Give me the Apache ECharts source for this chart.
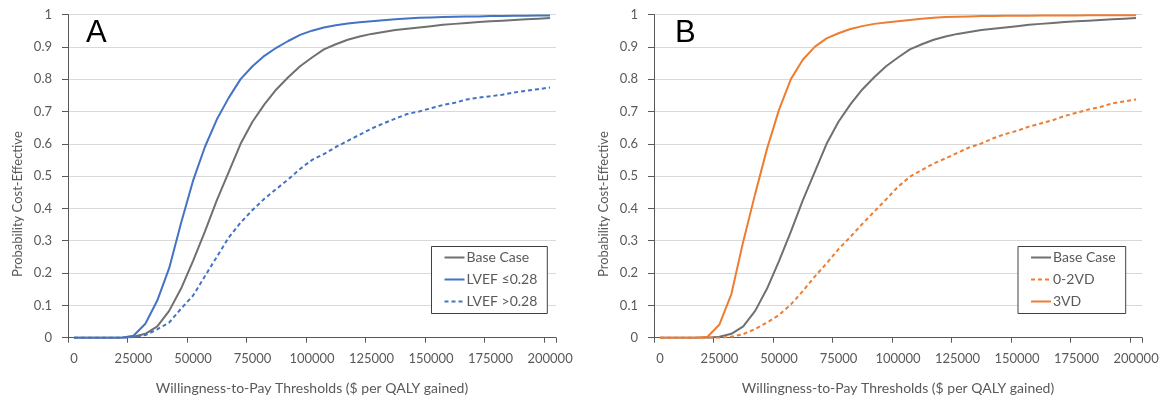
<!DOCTYPE html>
<html>
<head>
<meta charset="utf-8">
<script src="https://cdn.jsdelivr.net/npm/echarts@6/dist/echarts.min.js"></script>
<style>
html,body{margin:0;padding:0;background:#fff;}
#chart{width:1175px;height:405px;}
</style>
</head>
<body>
<div id="chart"></div>
<script>
var thresholds = ['0','5000','10000','15000','20000','25000','30000','35000','40000','45000',
  '50000','55000','60000','65000','70000','75000','80000','85000','90000','95000',
  '100000','105000','110000','115000','120000','125000','130000','135000','140000','145000',
  '150000','155000','160000','165000','170000','175000','180000','185000','190000','195000','200000'];

var baseCase = [0,0,0,0,0,0.003,0.012,0.035,0.083,0.152,
  0.237,0.328,0.425,0.512,0.600,0.668,0.722,0.768,0.806,0.840,
  0.867,0.892,0.908,0.922,0.932,0.940,0.946,0.952,0.956,0.960,
  0.964,0.968,0.971,0.974,0.977,0.979,0.981,0.983,0.985,0.987,0.989];

var lvefLow = [0,0,0,0,0,0.006,0.043,0.115,0.215,0.355,
  0.485,0.590,0.675,0.742,0.800,0.840,0.872,0.897,0.918,0.937,
  0.950,0.960,0.967,0.972,0.976,0.979,0.982,0.985,0.988,0.990,
  0.991,0.992,0.993,0.994,0.994,0.995,0.995,0.996,0.996,0.997,0.997];

var lvefHigh = [0,0,0,0,0,0.002,0.008,0.026,0.047,0.090,
  0.130,0.190,0.250,0.310,0.356,0.395,0.430,0.460,0.490,0.522,
  0.550,0.568,0.590,0.609,0.628,0.647,0.663,0.678,0.692,0.700,
  0.710,0.720,0.727,0.737,0.743,0.747,0.752,0.759,0.764,0.769,0.774];

var vd02 = [0,0,0,0,0,0,0.003,0.011,0.027,0.047,
  0.070,0.103,0.144,0.189,0.230,0.274,0.312,0.352,0.390,0.428,
  0.467,0.498,0.519,0.539,0.555,0.572,0.589,0.601,0.617,0.630,
  0.640,0.653,0.663,0.673,0.686,0.696,0.706,0.714,0.725,0.731,0.737];

var vd3 = [0,0,0,0,0.003,0.041,0.135,0.298,0.445,0.585,
  0.705,0.800,0.860,0.900,0.926,0.942,0.955,0.964,0.971,0.975,
  0.979,0.983,0.987,0.990,0.992,0.993,0.994,0.995,0.995,0.996,
  0.996,0.996,0.997,0.997,0.997,0.997,0.998,0.998,0.998,0.998,0.998];

var yTicks = ['0','0.1','0.2','0.3','0.4','0.5','0.6','0.7','0.8','0.9','1'];

var FONT = 'Lato';
var TXT = '#595959';
var GRAY = '#707070', BLUE = '#4472C4', ORANGE = '#ED7D31';

function xAxis(gi){
  return {
    type:'category', gridIndex:gi, data:thresholds, boundaryGap:true,
    axisLine:{show:true, lineStyle:{color:'#595959', width:1}},
    axisTick:{show:true, interval:4, length:5, lineStyle:{color:'#595959'}},
    axisLabel:{interval:4, margin:15, color:TXT, fontFamily:FONT, fontSize:13},
    splitLine:{show:false},
    name:'Willingness-to-Pay Thresholds ($ per QALY gained)',
    nameLocation:'middle', nameGap:44,
    nameTextStyle:{color:TXT, fontFamily:FONT, fontSize:14}
  };
}
function yAxis(gi){
  return {
    type:'value', gridIndex:gi, min:0, max:1, interval:0.1,
    axisLine:{show:true, lineStyle:{color:'#595959', width:1}},
    axisTick:{show:true, length:6, lineStyle:{color:'#595959'}},
    axisLabel:{margin:16, color:TXT, fontFamily:FONT, fontSize:13,
      formatter:function(v){ return yTicks[Math.round(v*10)]; }},
    splitLine:{show:true, lineStyle:{color:'#d9d9d9', width:1}},
    name:'Probability Cost-Effective',
    nameLocation:'middle', nameGap:44,
    nameTextStyle:{color:TXT, fontFamily:FONT, fontSize:13, padding:[0,56,0,0]}
  };
}
function line(name, data, gi, color, dashed, z){
  return {
    type:'line', name:name, data:data, xAxisIndex:gi, yAxisIndex:gi,
    symbol:'none', smooth:false, z:z||2, animation:false,
    lineStyle:{color:color, width:2, type: dashed ? [4,3] : 'solid'},
    itemStyle:{color:color}
  };
}
function legend(left, data){
  return {
    orient:'vertical', left:left, top:246.5, data:data,
    backgroundColor:'#fff', borderColor:'#404040', borderWidth:1,
    padding:[4,10,5,12], itemWidth:20, itemHeight:14, itemGap:8,
    itemStyle:{opacity:0},
    textStyle:{color:TXT, fontFamily:FONT, fontSize:14, padding:[0,0,0,-3]},
    selectedMode:false
  };
}

var chart = echarts.init(document.getElementById('chart'), null, {renderer:'canvas'});
chart.setOption({
  animation:false,
  backgroundColor:'#fff',
  grid:[
    {left:68, right:619, top:14.5, bottom:67.3},
    {left:654, right:33, top:14.5, bottom:67.3}
  ],
  xAxis:[xAxis(0), xAxis(1)],
  yAxis:[yAxis(0), yAxis(1)],
  legend:[
    legend(431.5, ['Base Case','LVEF ≤0.28','LVEF >0.28']),
    legend(1018, ['Base Case','0-2VD','3VD'])
  ],
  graphic:[
    {type:'text', left:86, top:18, style:{text:'A', fill:'#000', font:'31px "Liberation Sans", Arial, sans-serif'}},
    {type:'text', left:675, top:18, style:{text:'B', fill:'#000', font:'31px "Liberation Sans", Arial, sans-serif'}}
  ],
  series:[
    line('Base Case', baseCase, 0, GRAY, false, 2),
    line('LVEF ≤0.28', lvefLow, 0, BLUE, false, 3),
    line('LVEF >0.28', lvefHigh, 0, BLUE, true, 3),
    line('Base Case', baseCase, 1, GRAY, false, 2),
    line('0-2VD', vd02, 1, ORANGE, true, 3),
    line('3VD', vd3, 1, ORANGE, false, 3)
  ]
});
</script>
</body>
</html>
